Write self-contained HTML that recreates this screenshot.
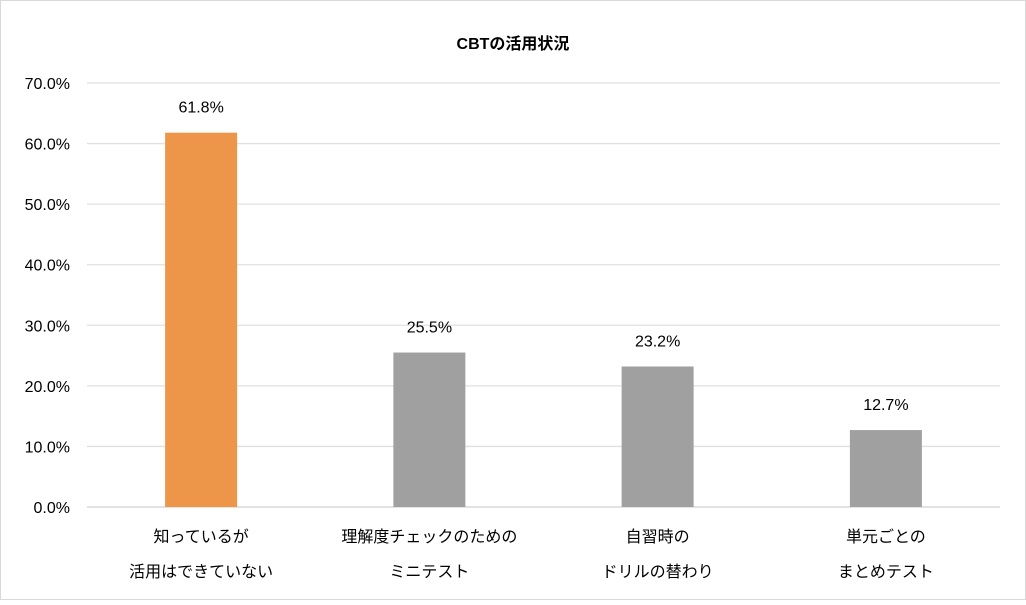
<!DOCTYPE html>
<html><head><meta charset="utf-8"><style>
body{margin:0;background:#fff;}
svg text{font-family:"Liberation Sans","Noto Sans CJK JP",sans-serif;fill:#000;}
</style></head><body>
<svg width="1026" height="600" xmlns="http://www.w3.org/2000/svg">
<rect x="0.5" y="0.5" width="1025" height="599" fill="#fff" stroke="#d9d9d9"/>
<text x="513" y="49" text-anchor="middle" font-size="16" font-weight="bold">CBTの活用状況</text>
<g id="grid"></g><g id="yticks"></g><g id="bars"></g><g id="xlabels"></g>
</svg>
<script>
const categories=[["知っているが","活用はできていない"],["理解度チェックのための","ミニテスト"],["自習時の","ドリルの替わり"],["単元ごとの","まとめテスト"]];
const values=[61.8,25.5,23.2,12.7];
const colors=["#ed9549","#a0a0a0","#a0a0a0","#a0a0a0"];
const yTicks=[0,10,20,30,40,50,60,70];
const NS="http://www.w3.org/2000/svg";
const x0=87,x1=1000,y0=507,yTop=83,yMax=70;
const y=v=>y0-(v/yMax)*(y0-yTop);
const bw=(x1-x0)/categories.length;
const xc=i=>x0+bw*(i+0.5);
function mk(t,a,p){const e=document.createElementNS(NS,t);for(const k in a)e.setAttribute(k,a[k]);p.appendChild(e);return e;}
const G=document.getElementById('grid'),YT=document.getElementById('yticks'),B=document.getElementById('bars'),XL=document.getElementById('xlabels');
yTicks.forEach(t=>{
const l=mk('line',{x1:x0,x2:x1,y1:y(t),y2:y(t),stroke:t===0?'#d0d0d0':'#e0e0e0','stroke-width':1.3},G);


const tx=mk('text',{x:70,y:y(t)+6,'text-anchor':'end','font-size':16},YT);
tx.textContent=t.toFixed(1)+'%';


});
values.forEach((v,i)=>{
const r=mk('rect',{x:xc(i)-36,y:y(v),width:72,height:y0-y(v),fill:colors[i]},B);


const t=mk('text',{x:xc(i),y:y(v)-20,'text-anchor':'middle','font-size':16},B);
t.textContent=v.toFixed(1)+'%';


categories[i].forEach((s,j)=>{
const c=mk('text',{x:xc(i),y:542+j*35,'text-anchor':'middle','font-size':16},XL);
c.textContent=s;


});
});
</script>
</body></html>
